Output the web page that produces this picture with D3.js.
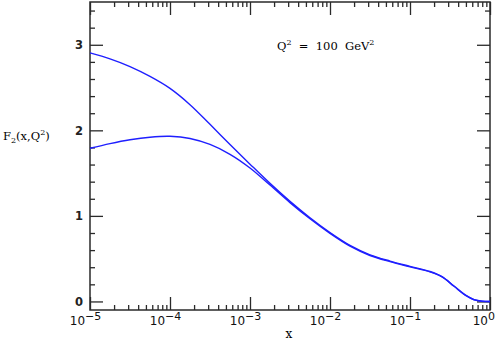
<!DOCTYPE html>
<html>
<head>
<meta charset="utf-8">
<script src="https://cdn.jsdelivr.net/npm/d3@7"></script>
<style>
  body { margin: 0; background: #fff; }
  svg { display: block; }
  .axis path, .axis line { stroke: #2a2a2a; stroke-width: 1.3; }
</style>
</head>
<body>
<div class="chart"></div>
<script>
// x values (log spaced) and the two F2 curves
let xValues = [1e-5, 1.778e-5, 3.162e-5, 5.623e-5, 1e-4, 1.778e-4, 3.162e-4, 5.623e-4,
  1e-3, 1.778e-3, 3.162e-3, 5.623e-3, 1e-2, 1.778e-2, 3.162e-2, 5.623e-2,
  1e-1, 1.778e-1, 2.512e-1, 3.548e-1, 5.012e-1, 6.310e-1, 7.943e-1, 1];
let upperF2 = [2.905, 2.835, 2.745, 2.63, 2.49, 2.30, 2.07, 1.835,
  1.605, 1.38, 1.17, 0.978, 0.805, 0.655, 0.545, 0.472,
  0.41, 0.35, 0.29, 0.18, 0.07, 0.022, 0.004, 0.0];
let lowerF2 = [1.79, 1.845, 1.89, 1.92, 1.93, 1.905, 1.835, 1.72,
  1.56, 1.36, 1.155, 0.966, 0.795, 0.646, 0.537, 0.465,
  0.404, 0.345, 0.286, 0.177, 0.067, 0.02, 0.003, 0.0];
let xMajor = [1e-5, 1e-4, 1e-3, 1e-2, 1e-1, 1];
let xExponents = ['\u22125', '\u22124', '\u22123', '\u22122', '\u22121', '0'];
let yMajor = [0, 1, 2, 3];

let margin = {top: 2, right: 6, bottom: 33, left: 90};
let width = 496 - margin.left - margin.right;
let height = 343 - margin.top - margin.bottom;

let svg = d3.select('.chart')
  .append('svg')
  .attr('width', 496)
  .attr('height', 343)
  .append('g')
  .attr('transform', 'translate(' + margin.left + ', ' + margin.top + ')');

let xScale = d3.scaleLog()
  .domain([1e-5, 1])
  .range([0, width]);

let yScale = d3.scaleLinear()
  .domain([-0.1, 3.5])
  .range([height, 0]);

let xMinor = [];
xMajor.slice(0, -1).forEach(d => {
  for (let k = 2; k <= 9; k++) xMinor.push(d * k);
});
let yMinor = d3.range(0, 3.5, 0.2).filter(v => Math.abs(v - Math.round(v)) > 0.01);

// frame
svg.append('rect')
  .attr('width', width)
  .attr('height', height)
  .style('fill', 'none')
  .style('stroke', '#2a2a2a')
  .style('stroke-width', 1.5);

// ticks on all four sides, pointing inward
function ticks(axis, values, size, transform) {
  svg.append('g')
    .attr('class', 'axis')
    .attr('transform', transform)
    .call(axis.tickValues(values).tickSize(size).tickFormat('').tickSizeOuter(0))
    .select('.domain').remove();
}
ticks(d3.axisBottom(xScale), xMajor, -13, 'translate(0,' + height + ')');
ticks(d3.axisBottom(xScale), xMinor, -5, 'translate(0,' + height + ')');
ticks(d3.axisTop(xScale), xMajor, -13, 'translate(0,0)');
ticks(d3.axisTop(xScale), xMinor, -5, 'translate(0,0)');
ticks(d3.axisLeft(yScale), yMajor, -13, 'translate(0,0)');
ticks(d3.axisLeft(yScale), yMinor, -5, 'translate(0,0)');
ticks(d3.axisRight(yScale), yMajor, -13, 'translate(' + width + ',0)');
ticks(d3.axisRight(yScale), yMinor, -5, 'translate(' + width + ',0)');

// x tick labels 10^n (last one kept inside the page)
let xl = svg.selectAll('.xlab')
  .data(xMajor)
  .enter()
  .append('text')
  .attr('class', 'xlab')
  .attr('x', (d, i) => i == xMajor.length - 1 ? width + 5 : xScale(d) - 4.5)
  .attr('y', height + 15)
  .attr('text-anchor', (d, i) => i == xMajor.length - 1 ? 'end' : 'middle')
  .style('font-family', 'DejaVu Sans')
  .style('font-size', '12px')
  .style('fill', '#111');
xl.append('tspan').text('10');
xl.append('tspan')
  .attr('dy', -5)
  .style('font-size', '11px')
  .text((d, i) => xExponents[i]);

// y tick labels
svg.selectAll('.ylab')
  .data(yMajor)
  .enter()
  .append('text')
  .attr('x', -7)
  .attr('y', d => yScale(d) + 4.5)
  .attr('text-anchor', 'end')
  .style('font-family', 'DejaVu Sans')
  .style('font-size', '11.5px')
  .style('font-weight', 'bold')
  .style('fill', '#222')
  .text(d => d);

// axis titles
svg.append('text')
  .attr('x', 199)
  .attr('y', 338 - margin.top)
  .attr('text-anchor', 'middle')
  .style('font-family', 'DejaVu Serif')
  .style('font-size', '12px')
  .text('x');

let yt = svg.append('text')
  .attr('x', 3 - margin.left)
  .attr('y', 140 - margin.top)
  .style('font-family', 'DejaVu Serif')
  .style('font-size', '11.5px');
yt.append('tspan').text('F');
yt.append('tspan').attr('dy', 3).style('font-size', '8px').text('2');
yt.append('tspan').attr('dy', -3).text('(x,Q');
yt.append('tspan').attr('dy', -5).style('font-size', '8px').text('2');
yt.append('tspan').attr('dy', 5).text(')');

let qt = svg.append('text')
  .attr('x', 277 - margin.left)
  .attr('y', 50 - margin.top)
  .style('font-family', 'DejaVu Serif')
  .style('font-size', '11.5px')
  .attr('xml:space', 'preserve');
qt.append('tspan').text('Q');
qt.append('tspan').attr('dy', -5).style('font-size', '8px').text('2');
qt.append('tspan').attr('dy', 5).text('  =  100  GeV');
qt.append('tspan').attr('dy', -5).style('font-size', '8px').text('2');

// curves
let line = d3.line()
  .x((d, i) => xScale(xValues[i]))
  .y(d => yScale(d))
  .curve(d3.curveCatmullRom.alpha(0.5));

svg.selectAll('.line')
  .data([upperF2, lowerF2])
  .enter()
  .append('path')
  .attr('class', 'line')
  .attr('d', d => line(d))
  .style('stroke', '#1f1fff')
  .style('stroke-width', 1.4)
  .style('fill', 'none');
</script>
</body>
</html>
